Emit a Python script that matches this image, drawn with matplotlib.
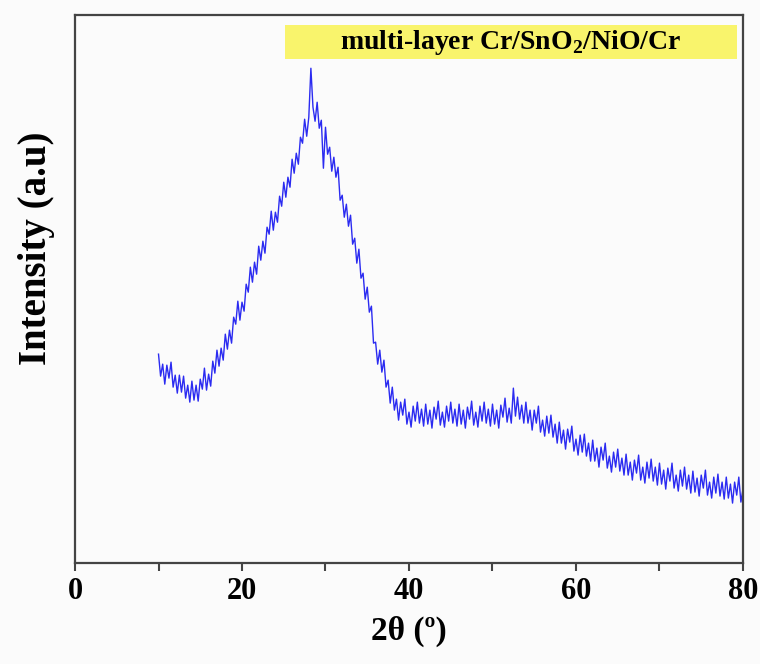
import numpy as np
import matplotlib
matplotlib.use("Agg")
import matplotlib.pyplot as plt
from matplotlib.patches import Rectangle

# 2theta in degrees, step 0.25 from 10 to 80
two_theta_start = 10.0
two_theta_step = 0.25
intensity = [
    209, 187, 199, 179,   # 10
    198, 185, 201, 176,   # 11
    188, 170, 188, 171,   # 12
    187, 165, 178, 161,   # 13
    182, 163, 178, 162,   # 14
    184, 174, 195, 173,   # 15
    189, 177, 202, 190,   # 16
    213, 197, 215, 203,   # 17
    229, 214, 233, 220,   # 18
    246, 239, 262, 243,   # 19
    261, 252, 279, 271,   # 20
    296, 281, 301, 289,   # 21
    317, 303, 322, 310,   # 22
    336, 329, 352, 333,   # 23
    351, 341, 367, 357,   # 24
    381, 366, 386, 376,   # 25
    404, 390, 410, 399,   # 26
    426, 420, 444, 427,   # 27
    446, 495, 456, 442,   # 28
    461, 435, 443, 395,   # 29
    436, 409, 416, 392,   # 30
    406, 386, 396, 363,   # 31
    368, 346, 359, 337,   # 32
    348, 319, 325, 300,   # 33
    314, 285, 290, 264,   # 34
    276, 251, 257, 220,   # 35
    221, 199, 213, 191,   # 36
    203, 176, 183, 160,   # 37
    176, 153, 164, 143,   # 38
    161, 148, 164, 139,   # 39
    151, 136, 157, 142,   # 40
    161, 140, 154, 137,   # 41
    159, 139, 153, 135,   # 42
    156, 144, 162, 138,   # 43
    151, 136, 157, 142,   # 44
    161, 140, 154, 137,   # 45
    159, 139, 153, 135,   # 46
    156, 144, 162, 138,   # 47
    151, 136, 157, 142,   # 48
    161, 140, 154, 137,   # 49
    159, 139, 153, 135,   # 50
    158, 146, 165, 141,   # 51
    155, 140, 175, 147,   # 52
    166, 144, 158, 140,   # 53
    161, 140, 153, 133,   # 54
    153, 140, 157, 131,   # 55
    143, 127, 147, 130,   # 56
    148, 126, 139, 120,   # 57
    141, 120, 133, 114,   # 58
    134, 121, 137, 112,   # 59
    124, 108, 128, 111,   # 60
    129, 107, 120, 102,   # 61
    123, 102, 115, 96,    # 62
    116, 103, 120, 95,    # 63
    107, 91, 111, 96,     # 64
    114, 92, 105, 88,     # 65
    109, 88, 101, 83,     # 66
    103, 90, 108, 83,     # 67
    96, 80, 101, 85,      # 68
    104, 82, 96, 78,      # 69
    100, 79, 93, 74,      # 70
    95, 82, 100, 75,      # 71
    88, 72, 93, 77,       # 72
    96, 74, 88, 70,       # 73
    92, 71, 85, 67,       # 74
    88, 75, 93, 68,       # 75
    81, 65, 86, 70,       # 76
    89, 67, 81, 64,       # 77
    86, 65, 79, 60,       # 78
    81, 68, 86, 61,       # 79
    74,                   # 80
]
two_theta = two_theta_start + two_theta_step * np.arange(len(intensity))

x_ticks = [0, 20, 40, 60, 80]
x_minor = [10, 30, 50, 70]
title_text = r"multi-layer Cr/SnO$_\mathregular{2}$/NiO/Cr"

plt.rcParams['mathtext.fontset'] = 'custom'
plt.rcParams['mathtext.rm'] = 'Liberation Serif:bold'
plt.rcParams['mathtext.bf'] = 'Liberation Serif:bold'

fig = plt.figure(figsize=(7.6, 6.64), dpi=100, facecolor='#fbfbfb')
ax = fig.add_axes([0.0987, 0.152, 0.8789, 0.825])
ax.set_facecolor('#fbfbfb')

ax.plot(two_theta, intensity, color='#1414f0', lw=1.0, alpha=0.9)

ax.set_xlim(0, 80)
ax.set_ylim(0, 548)
ax.set_xticks(x_ticks)
ax.set_xticks(x_minor, minor=True)
ax.set_yticks([])
ax.tick_params(axis='x', which='both', direction='out', length=6, width=1.5,
               color='#444444', pad=4)
for lbl in ax.get_xticklabels():
    lbl.set_fontfamily('Liberation Serif')
    lbl.set_fontweight('bold')
    lbl.set_fontsize(22)
for sp in ax.spines.values():
    sp.set_linewidth(1.6)
    sp.set_color('#444444')

ax.set_xlabel('2θ (º)', family='Liberation Serif', fontweight='bold',
              fontsize=24, labelpad=7)
ax.set_ylabel('Intensity (a.u)', family='Liberation Serif', fontweight='bold',
              fontsize=28)
ax.yaxis.set_label_coords(-0.03, 0.575)

ax.add_patch(Rectangle((0.315, 0.921), 0.676, 0.061, transform=ax.transAxes,
                       facecolor='#f9f46c', edgecolor='none', zorder=3))
ax.text(0.652, 0.951, title_text, transform=ax.transAxes, ha='center',
        va='center', family='Liberation Serif', fontweight='bold',
        fontsize=20, zorder=4)

fig.savefig('out.png', dpi=100, facecolor=fig.get_facecolor())
